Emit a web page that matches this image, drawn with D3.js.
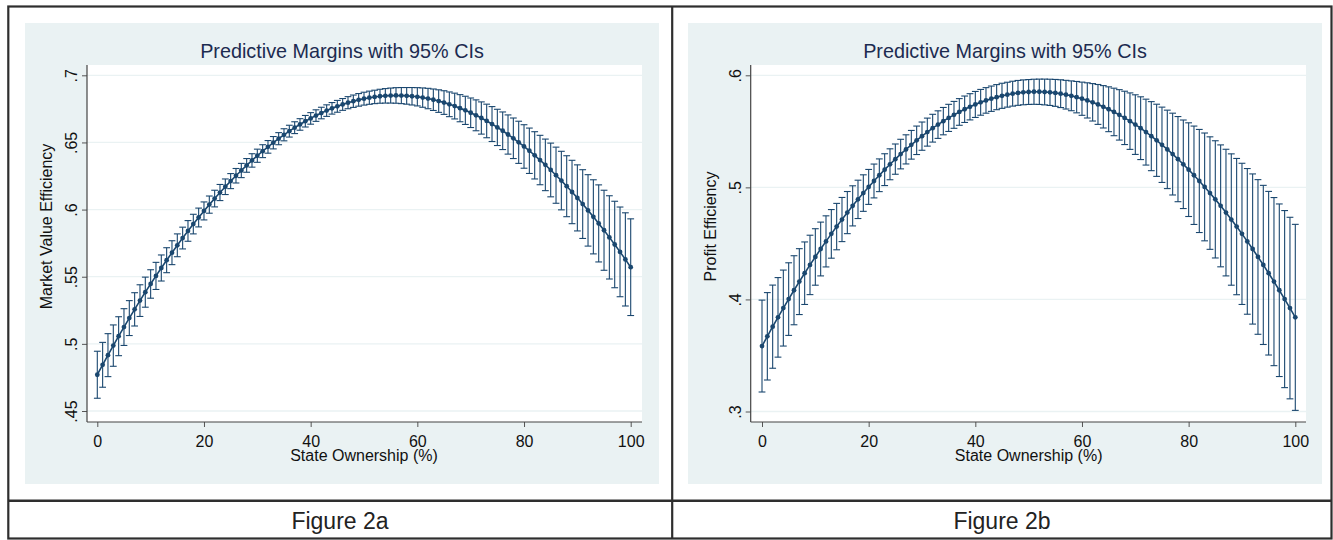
<!DOCTYPE html>
<html>
<head>
<meta charset="utf-8">
<script src="https://cdn.jsdelivr.net/npm/d3@7"></script>
<style>
  body { margin: 0; background: #fff; }
  text { font-family: "Liberation Sans", Arial, sans-serif; }
</style>
</head>
<body>
<svg id="chart" width="1333" height="540"></svg>
<script>

// margins evaluated at state ownership = 0(1)100
var stateOwnership = [
	0, 1, 2, 3, 4, 5, 6, 7, 8, 9, 10, 11, 12, 13, 14, 15, 16, 17, 18, 19, 20,
	21, 22, 23, 24, 25, 26, 27, 28, 29, 30, 31, 32, 33, 34, 35, 36, 37, 38, 39, 40,
	41, 42, 43, 44, 45, 46, 47, 48, 49, 50, 51, 52, 53, 54, 55, 56, 57, 58, 59, 60,
	61, 62, 63, 64, 65, 66, 67, 68, 69, 70, 71, 72, 73, 74, 75, 76, 77, 78, 79, 80,
	81, 82, 83, 84, 85, 86, 87, 88, 89, 90, 91, 92, 93, 94, 95, 96, 97, 98, 99, 100];

// Figure 2a: market value efficiency, margin and half width of the 95% CI
var mveMargin = [
	.4770, .4844, .4916, .4987, .5057, .5125, .5192, .5257, .5322, .5385, .5446,
	.5506, .5565, .5623, .5679, .5734, .5788, .5841, .5892, .5941, .5990,
	.6037, .6082, .6127, .6170, .6212, .6252, .6291, .6329, .6366, .6401,
	.6435, .6467, .6498, .6528, .6557, .6584, .6610, .6634, .6658, .6679,
	.6700, .6719, .6737, .6754, .6769, .6783, .6796, .6807, .6817, .6826,
	.6833, .6839, .6844, .6847, .6849, .6850, .6849, .6847, .6844, .6840,
	.6834, .6827, .6818, .6808, .6797, .6784, .6771, .6755, .6739, .6721,
	.6702, .6682, .6660, .6637, .6612, .6587, .6559, .6531, .6501, .6470,
	.6438, .6404, .6369, .6333, .6295, .6256, .6216, .6174, .6131, .6087,
	.6041, .5994, .5946, .5897, .5846, .5793, .5740, .5685, .5629, .5571];

var mveCI = [
	.0175, .0167, .0160, .0154, .0145, .0137, .0130, .0124, .0118, .0112, .0106,
	.0101, .0097, .0093, .0089, .0085, .0081, .0077, .0073, .0070, .0067,
	.0064, .0062, .0060, .0058, .0056, .0054, .0053, .0051, .0050, .0049,
	.0048, .0047, .0046, .0045, .0045, .0044, .0044, .0043, .0043, .0043,
	.0043, .0043, .0043, .0043, .0044, .0044, .0045, .0046, .0047, .0048,
	.0049, .0050, .0052, .0054, .0056, .0058, .0060, .0062, .0065, .0068,
	.0072, .0076, .0080, .0084, .0088, .0092, .0096, .0101, .0105, .0110,
	.0115, .0120, .0125, .0130, .0135, .0140, .0146, .0151, .0157, .0162,
	.0169, .0176, .0184, .0192, .0200, .0209, .0218, .0227, .0236, .0246,
	.0256, .0266, .0276, .0287, .0298, .0310, .0322, .0334, .0347, .0360];

// Figure 2b: profit efficiency
var peMargin = [
	.3584, .3671, .3757, .3840, .3923, .4003, .4082, .4159, .4234, .4308, .4379,
	.4450, .4518, .4585, .4650, .4713, .4775, .4835, .4893, .4949, .5004,
	.5057, .5108, .5158, .5206, .5252, .5297, .5339, .5380, .5420, .5457,
	.5493, .5528, .5560, .5591, .5620, .5647, .5673, .5697, .5719, .5740,
	.5759, .5776, .5791, .5805, .5817, .5827, .5836, .5843, .5848, .5851,
	.5853, .5853, .5851, .5848, .5843, .5836, .5827, .5817, .5805, .5791,
	.5776, .5759, .5740, .5719, .5697, .5673, .5647, .5620, .5591, .5560,
	.5528, .5493, .5457, .5420, .5380, .5339, .5297, .5252, .5206, .5158,
	.5108, .5057, .5004, .4949, .4893, .4835, .4775, .4713, .4650, .4585,
	.4518, .4450, .4379, .4308, .4234, .4159, .4082, .4003, .3923, .3840];

var peCI = [
	.0410, .0390, .0371, .0355, .0339, .0324, .0308, .0294, .0279, .0265, .0252,
	.0240, .0228, .0217, .0207, .0197, .0188, .0179, .0171, .0163, .0156,
	.0151, .0146, .0142, .0138, .0135, .0132, .0130, .0128, .0127, .0126,
	.0125, .0124, .0123, .0122, .0121, .0120, .0119, .0118, .0117, .0116,
	.0115, .0114, .0113, .0112, .0112, .0111, .0111, .0111, .0111, .0111,
	.0112, .0113, .0115, .0117, .0120, .0124, .0128, .0133, .0140, .0148,
	.0157, .0167, .0178, .0189, .0200, .0212, .0225, .0238, .0252, .0266,
	.0280, .0294, .0308, .0322, .0336, .0350, .0365, .0380, .0395, .0418,
	.0439, .0460, .0481, .0502, .0523, .0544, .0565, .0586, .0608, .0630,
	.0650, .0670, .0690, .0710, .0730, .0750, .0770, .0790, .0810, .0830];

var xTicks = [0, 20, 40, 60, 80, 100];
var mveTicks = [.45, .5, .55, .6, .65, .7];
var peTicks = [.3, .4, .5, .6];

var chartTitle = "Predictive Margins with 95% CIs";
var xTitle = "State Ownership (%)";


var svg = d3.select("#chart");
var navy = "#1a476f";
var panelBg = "#eaf2f3";

function stataFormat(d) {
	return String(+d.toFixed(2)).replace(/^0\./, ".");
}

function drawPanel(p) {

	var g = svg.append("g");

	g.append("rect")
		.attr("x", p.bg[0]).attr("y", p.bg[1])
		.attr("width", p.bg[2] - p.bg[0]).attr("height", p.bg[3] - p.bg[1])
		.attr("fill", panelBg);

	g.append("rect")
		.attr("x", p.plot[0]).attr("y", p.plot[1])
		.attr("width", p.plot[2] - p.plot[0]).attr("height", p.plot[3] - p.plot[1])
		.attr("fill", "#fff");

	var x = d3.scaleLinear().domain([0, 100]).range(p.xRange);
	var y = d3.scaleLinear().domain(p.yDomain).range(p.yRange);

	// gridlines
	g.append("g")
		.selectAll("line")
		.data(p.yTicks)
		.enter().append("line")
		.attr("x1", p.plot[0]).attr("x2", p.plot[2])
		.attr("y1", y).attr("y2", y)
		.attr("stroke", panelBg)
		.attr("stroke-width", 1.3);

	// y axis
	var yAxis = g.append("g")
		.attr("transform", "translate(" + p.plot[0] + ",0)")
		.call(d3.axisLeft(y).tickValues(p.yTicks).tickSize(5).tickFormat(stataFormat));
	yAxis.select(".domain").remove();
	yAxis.selectAll(".tick line").attr("stroke", "#555");
	yAxis.selectAll(".tick text")
		.attr("transform", "rotate(-90)")
		.attr("x", 0).attr("y", -9.7).attr("dy", 0)
		.attr("text-anchor", "middle")
		.attr("fill", "#111")
		.style("font-size", "16px");
	g.append("line")
		.attr("x1", p.plot[0]).attr("x2", p.plot[0])
		.attr("y1", p.plot[1]).attr("y2", p.plot[3])
		.attr("stroke", "#444").attr("stroke-width", 1.2);

	// x axis
	var xAxis = g.append("g")
		.attr("transform", "translate(0," + p.plot[3] + ")")
		.call(d3.axisBottom(x).tickValues(xTicks).tickSize(5));
	xAxis.select(".domain").remove();
	xAxis.selectAll(".tick line").attr("stroke", "#555");
	xAxis.selectAll(".tick text")
		.attr("y", 24.5).attr("dy", 0)
		.attr("fill", "#111")
		.style("font-size", "16px");
	g.append("line")
		.attr("x1", p.plot[0]).attr("x2", p.plot[2])
		.attr("y1", p.plot[3]).attr("y2", p.plot[3])
		.attr("stroke", "#444").attr("stroke-width", 1.2);

	// titles
	g.append("text")
		.attr("x", (p.bg[0] + p.bg[2]) / 2).attr("y", 58.3)
		.attr("text-anchor", "middle")
		.attr("fill", "#1c2b50")
		.style("font-size", "19.8px")
		.text(chartTitle);

	g.append("text")
		.attr("x", (p.xRange[0] + p.xRange[1]) / 2).attr("y", 461)
		.attr("text-anchor", "middle")
		.attr("fill", "#111")
		.style("font-size", "16px")
		.text(xTitle);

	g.append("text")
		.attr("transform", "translate(" + (p.plot[0] - 35) + ",226.5) rotate(-90)")
		.attr("text-anchor", "middle")
		.attr("fill", "#111")
		.style("font-size", "16px")
		.text(p.yTitle);

	// 95% CIs as capped spikes
	var rows = stateOwnership.map(function(s, i) {
		return { s: s, m: p.margin[i], lo: p.margin[i] - p.ci[i], hi: p.margin[i] + p.ci[i] };
	});

	var caps = g.append("g")
		.attr("stroke", navy)
		.attr("stroke-width", 1.1)
		.attr("fill", "none");

	caps.selectAll(".spike")
		.data(rows)
		.enter().append("line")
		.attr("class", "spike")
		.attr("x1", function(d) { return x(d.s); })
		.attr("x2", function(d) { return x(d.s); })
		.attr("y1", function(d) { return y(d.lo); })
		.attr("y2", function(d) { return y(d.hi); });

	["lo", "hi"].forEach(function(k) {
		caps.selectAll(".cap-" + k)
			.data(rows)
			.enter().append("line")
			.attr("class", "cap-" + k)
			.attr("x1", function(d) { return x(d.s) - 3.4; })
			.attr("x2", function(d) { return x(d.s) + 3.4; })
			.attr("y1", function(d) { return y(d[k]); })
			.attr("y2", function(d) { return y(d[k]); });
	});

	// connected margins
	var line = d3.line()
		.x(function(d) { return x(d.s); })
		.y(function(d) { return y(d.m); });

	g.append("path")
		.datum(rows)
		.attr("d", line)
		.attr("fill", "none")
		.attr("stroke", navy)
		.attr("stroke-width", 1.6);

	g.append("g")
		.selectAll("circle")
		.data(rows)
		.enter().append("circle")
		.attr("cx", function(d) { return x(d.s); })
		.attr("cy", function(d) { return y(d.m); })
		.attr("r", 2.4)
		.attr("fill", navy);
}

drawPanel({
	bg: [25, 23, 659, 484],
	plot: [87, 65, 642, 422],
	xRange: [97.3, 630.7],
	yDomain: [.45, .7],
	yRange: [411, 75.3],
	yTicks: mveTicks,
	yTitle: "Market Value Efficiency",
	margin: mveMargin,
	ci: mveCI
});

drawPanel({
	bg: [688, 23, 1322, 484],
	plot: [750.7, 65, 1306, 422],
	xRange: [762, 1295.3],
	yDomain: [.3, .6],
	yRange: [411.5, 75.3],
	yTicks: peTicks,
	yTitle: "Profit Efficiency",
	margin: peMargin,
	ci: peCI
});

// table frame around the two figures
var frame = svg.append("g")
	.attr("stroke", "#2e2e2e")
	.attr("fill", "none");

frame.append("rect")
	.attr("x", 8.3).attr("y", 6.5)
	.attr("width", 1323.2).attr("height", 532)
	.attr("stroke-width", 2.2);

frame.append("line")
	.attr("x1", 672.2).attr("x2", 672.2)
	.attr("y1", 6.5).attr("y2", 538.5)
	.attr("stroke-width", 2.2);

frame.append("line")
	.attr("x1", 8.3).attr("x2", 1331.5)
	.attr("y1", 500.7).attr("y2", 500.7)
	.attr("stroke-width", 2.6);

svg.selectAll(".figlabel")
	.data([{ label: "Figure 2a", x: 340 }, { label: "Figure 2b", x: 1002 }])
	.enter().append("text")
	.attr("class", "figlabel")
	.attr("x", function(d) { return d.x; })
	.attr("y", 528.7)
	.attr("text-anchor", "middle")
	.attr("fill", "#222")
	.style("font-size", "23px")
	.text(function(d) { return d.label; });

</script>
</body>
</html>
